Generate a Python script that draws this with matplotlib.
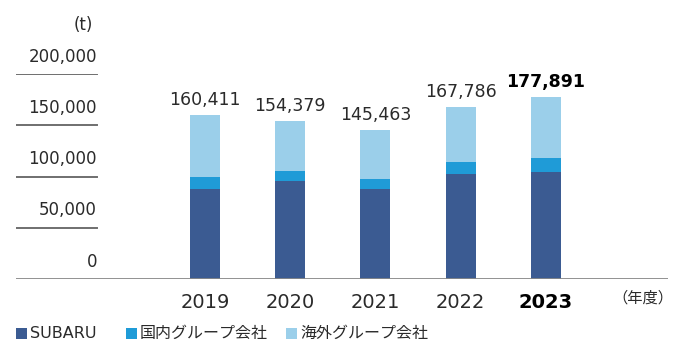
import matplotlib
matplotlib.use("Agg")
import matplotlib.pyplot as plt
from matplotlib.patches import Rectangle
import numpy as np

plt.rcParams['font.family'] = ['DejaVu Sans', 'Noto Sans CJK JP']

# data (t)
years = ['2019', '2020', '2021', '2022', '2023']
totals = [160411, 154379, 145463, 167786, 177891]
subaru = [88000, 95800, 87400, 102000, 104300]
domestic = [11700, 9800, 10100, 12300, 13600]
overseas = [t - s - d for t, s, d in zip(totals, subaru, domestic)]
yticks = [0, 50000, 100000, 150000, 200000]
series_names = ['SUBARU', '国内グループ会社', '海外グループ会社']
colors = ['#3b5b92', '#1f9bd7', '#9bcfea']
text_col = '#2a2a2a'

W, H = 680, 353
fig = plt.figure(figsize=(W / 100, H / 100), dpi=100)

# axes span: x 16..668 px, y baseline at 279 px, 200,000 at 74 px
ax = fig.add_axes([16 / W, (H - 279) / H, (668 - 16) / W, (279 - 74) / H])
step = 85.2
ax.set_xlim(-(205 - 16) / step, (668 - 205) / step)
ax.set_ylim(0, 200000)

x = np.arange(len(years))
bw = 30 / step
ax.bar(x, subaru, bw, color=colors[0], zorder=2)
ax.bar(x, domestic, bw, bottom=subaru, color=colors[1], zorder=2)
ax.bar(x, overseas, bw, bottom=np.add(subaru, domestic), color=colors[2], zorder=2)

for s in ax.spines.values():
    s.set_visible(False)
ax.set_yticks([])
ax.tick_params(axis='x', length=0, pad=10)
ax.set_xticks(x)
ax.set_xticklabels(years, fontsize=14, color=text_col)
ax.get_xticklabels()[-1].set_fontweight('bold')
ax.get_xticklabels()[-1].set_color('#000000')

# short grid lines with labels above them
gx = (97 - 16) / (668 - 16)
for v in yticks[1:]:
    ax.axhline(v, xmin=0, xmax=gx, color='#6f6f6f', lw=1.4, zorder=1)
for v in yticks:
    ax.annotate(f'{v:,}', xy=(gx, v), xycoords=ax.get_yaxis_transform(),
                xytext=(0, 6), textcoords='offset points', ha='right', va='bottom',
                fontsize=12, color=text_col)
ax.axhline(0, color='#888888', lw=2, zorder=3)

# totals
for i, t in enumerate(totals):
    bold = i == len(totals) - 1
    ax.annotate(f'{t:,}', xy=(i, t), xytext=(0, 4), textcoords='offset points',
                ha='center', va='bottom', fontsize=12.5,
                fontweight='bold' if bold else 'normal',
                color='#000000' if bold else text_col)

fig.text(93 / W, 1 - 25 / H, '(t)', ha='right', va='center', fontsize=12, color=text_col)
fig.text(643 / W, 1 - 298 / H, '（年度）', ha='center', va='center', fontsize=11,
         color=text_col)

# legend
leg_x = [16, 126, 286]
for lx, name, c in zip(leg_x, series_names, colors):
    fig.patches.append(Rectangle((lx / W, 1 - 339 / H), 11 / W, 11 / H,
                                 transform=fig.transFigure, facecolor=c, edgecolor='none'))
    fig.text((lx + 14) / W, 1 - 333 / H, name, ha='left', va='center',
             fontsize=11.5, color=text_col)

fig.savefig('out.png', dpi=100)
